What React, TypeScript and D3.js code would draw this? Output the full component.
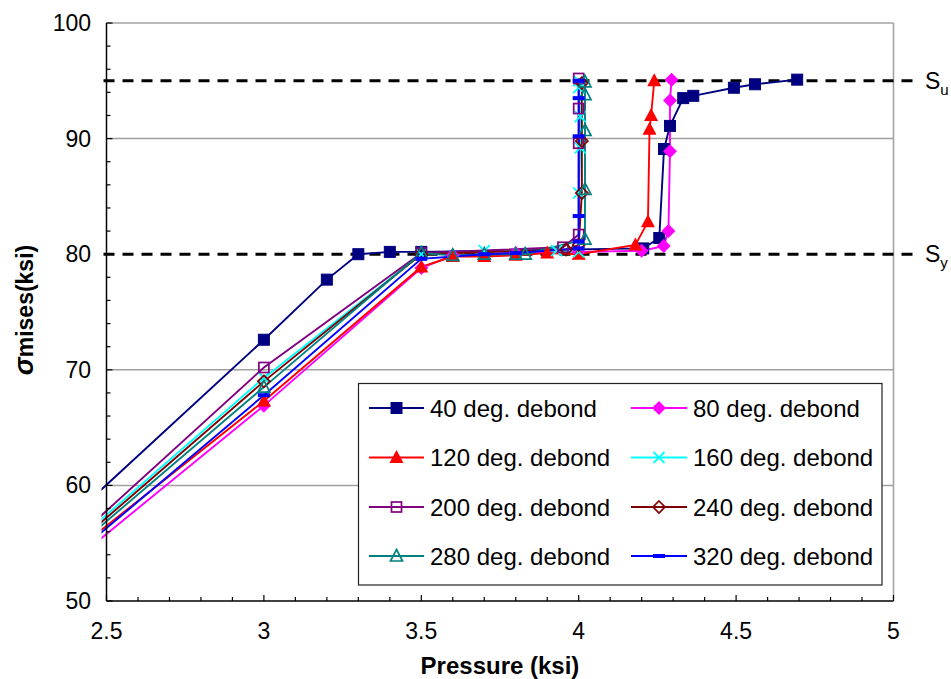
import React from "react";
import * as d3 from "d3";

// Pressure (ksi) vs von Mises stress (ksi) for each debond angle
const s40: [number, number][] = [
  [2.0, 47.5], [3.0, 72.6], [3.2, 77.8], [3.3, 80.0], [3.4, 80.2], [3.5, 80.2],
  [4.205, 80.5], [4.256, 81.4], [4.271, 89.1], [4.29, 91.1], [4.332, 93.5],
  [4.364, 93.7], [4.493, 94.4], [4.56, 94.7], [4.694, 95.1],
];
const s80: [number, number][] = [
  [2.0, 44.7], [3.0, 66.9], [3.5, 78.8], [3.6, 79.9], [3.8, 80.1], [4.0, 80.2],
  [4.2, 80.3], [4.27, 80.7], [4.285, 82.0], [4.29, 88.9], [4.29, 93.3], [4.295, 95.1],
];
const s120: [number, number][] = [
  [2.0, 45.7], [3.0, 67.3], [3.5, 78.9], [3.6, 79.8], [3.7, 79.8], [3.8, 79.9],
  [3.9, 80.1], [4.0, 80.0], [4.18, 80.8], [4.22, 82.8], [4.225, 90.8],
  [4.23, 92.0], [4.24, 95.0],
];
const s160: [number, number][] = [
  [2.0, 45.6], [3.0, 69.3], [3.5, 80.0], [3.7, 80.3], [3.93, 80.3], [4.0, 80.2],
  [4.0, 85.3], [4.005, 89.2], [4.005, 91.9], [4.0, 94.4], [4.0, 95.0],
];
const s200: [number, number][] = [
  [2.0, 45.4], [3.0, 70.2], [3.5, 80.1], [3.95, 80.6], [4.0, 81.7], [4.0, 89.6],
  [4.0, 92.6], [4.0, 95.2],
];
const s240: [number, number][] = [
  [2.0, 45.4], [3.0, 69.0], [3.5, 80.0], [3.96, 80.4], [4.0, 80.8], [4.01, 85.3],
  [4.01, 89.8], [4.01, 94.8],
];
const s280: [number, number][] = [
  [2.0, 45.3], [3.0, 68.5], [3.5, 80.1], [3.6, 79.9], [3.7, 80.0], [3.8, 80.0],
  [3.83, 80.0], [4.02, 81.3], [4.02, 85.6], [4.02, 90.7], [4.02, 93.8], [4.02, 94.9],
];
const s320: [number, number][] = [
  [2.0, 44.8], [3.0, 67.8], [3.5, 79.6], [3.7, 80.0], [3.8, 80.1], [4.0, 80.5],
  [4.0, 81.1], [4.0, 83.3], [4.0, 90.2], [4.0, 93.5], [4.0, 95.0],
];

const seriesNames = [
  "40 deg. debond", "80 deg. debond", "120 deg. debond", "160 deg. debond",
  "200 deg. debond", "240 deg. debond", "280 deg. debond", "320 deg. debond",
];
const seriesData = [s40, s80, s120, s160, s200, s240, s280, s320];
const seriesColors = [
  "#000080", "#FF00FF", "#FF0000", "#00FFFF",
  "#800080", "#800000", "#008080", "#0000FF",
];
const seriesMarkers = [
  "square", "diamond", "triangle", "cross",
  "openSquare", "openDiamond", "openTriangle", "dash",
];

const xTicks = [2.5, 3, 3.5, 4, 4.5, 5];
const yTicks = [50, 60, 70, 80, 90, 100];
const gridValues = [60, 70, 90];
const yieldStress = 80;
const ultimateStress = 95;

const W = 951;
const H = 679;
const left = 106.5;
const right = 893.5;
const top = 23;
const bottom = 601;

const x = d3.scaleLinear().domain([2.5, 5]).range([left, right]);
const y = d3.scaleLinear().domain([50, 100]).range([bottom, top]);

const FONT = "'Liberation Sans', Arial, sans-serif";

function Marker({ kind, color, cx, cy }: { kind: string; color: string; cx: number; cy: number }) {
  switch (kind) {
    case "square":
      return <rect x={cx - 5.5} y={cy - 5.5} width={11} height={11} fill={color} stroke={color} strokeWidth={1} />;
    case "diamond":
      return <path d={`M${cx},${cy - 7}L${cx + 7},${cy}L${cx},${cy + 7}L${cx - 7},${cy}Z`} fill={color} />;
    case "triangle":
      return <path d={`M${cx},${cy - 7.5}L${cx + 7},${cy + 5.5}L${cx - 7},${cy + 5.5}Z`} fill={color} />;
    case "cross":
      return (
        <path d={`M${cx - 5.5},${cy - 5.5}L${cx + 5.5},${cy + 5.5}M${cx + 5.5},${cy - 5.5}L${cx - 5.5},${cy + 5.5}`}
          stroke={color} strokeWidth={1.8} fill="none" />
      );
    case "openSquare":
      return <rect x={cx - 5} y={cy - 5} width={10} height={10} fill="none" stroke={color} strokeWidth={1.7} />;
    case "openDiamond":
      return <path d={`M${cx},${cy - 6}L${cx + 6},${cy}L${cx},${cy + 6}L${cx - 6},${cy}Z`} fill="none" stroke={color} strokeWidth={1.7} />;
    case "openTriangle":
      return <path d={`M${cx},${cy - 6.5}L${cx + 6},${cy + 5}L${cx - 6},${cy + 5}Z`} fill="none" stroke={color} strokeWidth={1.7} />;
    case "dash":
      return <rect x={cx - 6} y={cy - 2} width={12} height={4} fill={color} />;
    default:
      return null;
  }
}

export default function App() {
  const line = d3.line<[number, number]>().x((d) => x(d[0])).y((d) => y(d[1]));
  const minorX = d3.range(25, 51).map((v) => v / 10);
  const minorY = d3.range(50, 101, 2);

  const legendRows = [408, 457.5, 507, 556];
  const legendCols = [{ x1: 369, x2: 424, tx: 430 }, { x1: 631, x2: 687, tx: 693 }];

  return (
    <svg width={W} height={H} style={{ position: "absolute", left: 0, top: 0, background: "#fff" }}
      fontFamily={FONT}>
      <defs>
        <clipPath id="plotClip">
          <rect x={left - 5} y={top - 8} width={right - left + 5} height={bottom - top + 8} />
        </clipPath>
      </defs>
      <rect x={0} y={0} width={W} height={H} fill="#fff" />

      {/* grid lines and frame */}
      {gridValues.map((v) => (
        <line key={v} x1={left} x2={right} y1={y(v)} y2={y(v)} stroke="#a0a0a0" strokeWidth={1.5} />
      ))}
      <line x1={left} x2={right} y1={top} y2={top} stroke="#a0a0a0" strokeWidth={1.5} />
      <line x1={right} x2={right} y1={top} y2={bottom} stroke="#a0a0a0" strokeWidth={1.5} />

      {/* yield and ultimate stress levels */}
      {[yieldStress, ultimateStress].map((v) => (
        <line key={v} x1={left - 3} x2={917} y1={y(v)} y2={y(v)} stroke="#000" strokeWidth={3} strokeDasharray="11,8" />
      ))}
      <text x={925} y={y(ultimateStress) + 8} fontSize={23} fill="#000">
        S<tspan fontSize={15} dy={6}>u</tspan>
      </text>
      <text x={925} y={y(yieldStress) + 8} fontSize={23} fill="#000">
        S<tspan fontSize={15} dy={6}>y</tspan>
      </text>

      {/* series */}
      <g clipPath="url(#plotClip)">
        {seriesData.map((data, i) => (
          <path key={"l" + i} d={line(data) || ""} fill="none" stroke={seriesColors[i]} strokeWidth={1.9} />
        ))}
        {seriesData.map((data, i) => (
          <g key={"m" + i}>
            {data.map((d, j) => (
              <Marker key={j} kind={seriesMarkers[i]} color={seriesColors[i]} cx={x(d[0])} cy={y(d[1])} />
            ))}
          </g>
        ))}
      </g>

      {/* axes */}
      <line x1={left} x2={left} y1={top} y2={bottom} stroke="#000" strokeWidth={1.5} />
      <line x1={left} x2={right} y1={bottom} y2={bottom} stroke="#000" strokeWidth={1.5} />
      {minorX.map((v) => {
        const major = Math.abs(v * 2 - Math.round(v * 2)) < 1e-6;
        return <line key={"xt" + v} x1={x(v)} x2={x(v)} y1={bottom} y2={bottom - (major ? 6 : 4)} stroke="#000" strokeWidth={1.2} />;
      })}
      {minorY.map((v) => {
        const major = v % 10 === 0;
        return <line key={"yt" + v} x1={left} x2={left + (major ? 6 : 4)} y1={y(v)} y2={y(v)} stroke="#000" strokeWidth={1.2} />;
      })}
      {xTicks.map((v) => (
        <text key={"xl" + v} x={x(v)} y={639} fontSize={23} textAnchor="middle" fill="#000">{v}</text>
      ))}
      {yTicks.map((v) => (
        <text key={"yl" + v} x={91} y={y(v) + 8} fontSize={23} textAnchor="end" fill="#000">{v}</text>
      ))}

      {/* axis titles */}
      <text x={(left + right) / 2} y={674} fontSize={24} fontWeight="bold" textAnchor="middle" fill="#000">
        Pressure (ksi)
      </text>
      <text transform={`translate(33,${(top + bottom) / 2 - 2}) rotate(-90)`} fontSize={23} fontWeight="bold"
        textAnchor="middle" fill="#000">
        <tspan fontStyle="italic" fontSize={27}>σ</tspan>
        <tspan>mises(ksi)</tspan>
      </text>

      {/* legend */}
      <rect x={358.5} y={383.5} width={523.5} height={201.5} fill="#fff" stroke="#222" strokeWidth={1.2} />
      {seriesNames.map((name, i) => {
        const row = Math.floor(i / 2);
        const col = legendCols[i % 2];
        const cy = legendRows[row];
        return (
          <g key={"lg" + i}>
            <line x1={col.x1} x2={col.x2} y1={cy} y2={cy} stroke={seriesColors[i]} strokeWidth={1.9} />
            <Marker kind={seriesMarkers[i]} color={seriesColors[i]} cx={(col.x1 + col.x2) / 2} cy={cy} />
            <text x={col.tx} y={cy + 8.5} fontSize={24} fill="#000">{name}</text>
          </g>
        );
      })}
    </svg>
  );
}
